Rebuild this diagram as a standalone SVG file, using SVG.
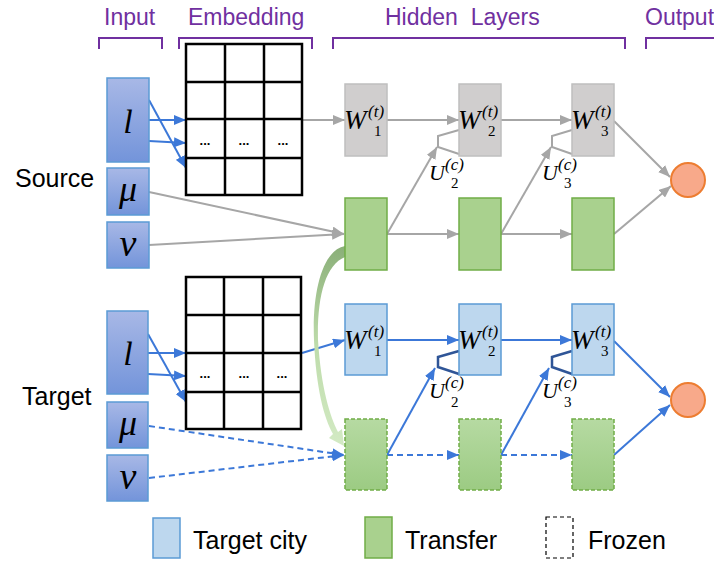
<svg xmlns="http://www.w3.org/2000/svg" width="714" height="561" viewBox="0 0 714 561">
<style>
.hdr{font-family:"Liberation Sans",Arial,sans-serif;font-size:23px;fill:#7030A0}
.brk{fill:none;stroke:#7030A0;stroke-width:2}
.lbl{font-family:"Liberation Sans",Arial,sans-serif;font-size:25px;fill:#000}
.inp{fill:url(#gInp);stroke:#5B9BD5;stroke-width:1.5}
.sym{font-family:"Liberation Serif","Times New Roman",serif;font-style:italic;fill:#000;text-anchor:middle}
.grid{fill:#fff;stroke:#000;stroke-width:2.5}
.gl{stroke:#000;stroke-width:2.5}
.dots{font-family:"Liberation Sans",Arial,sans-serif;font-size:13px;font-weight:bold;fill:#000;text-anchor:middle}
.gray{fill:#D0CECE;stroke:#BFBFBF;stroke-width:1.5}
.green{fill:#A9D18E;stroke:#70AD47;stroke-width:1.5}
.greend{fill:url(#gGreen);stroke:#70AD47;stroke-width:1.5;stroke-dasharray:4 2}
.blue{fill:#BDD7EE;stroke:#5B9BD5;stroke-width:1.5}
.outc{fill:#F8A98A;stroke:#ED7D31;stroke-width:2}
.w{font-family:"Liberation Serif","Times New Roman",serif;font-style:italic;font-size:27px;fill:#000}
.sup{font-family:"Liberation Serif","Times New Roman",serif;font-style:italic;font-size:17px;fill:#000}
.sub{font-family:"Liberation Serif","Times New Roman",serif;font-size:15px;fill:#000}
.u{font-family:"Liberation Serif","Times New Roman",serif;font-style:italic;font-size:22px;fill:#000}
.cg{fill:none;stroke:#A6A6A6;stroke-width:2}
.cb{fill:none;stroke:#3C78D8;stroke-width:2}
.cbd{fill:none;stroke:#3C78D8;stroke-width:2;stroke-dasharray:6 4}
.trg{fill:none;stroke:#A6A6A6;stroke-width:2}
.trb{fill:none;stroke:#2F5597;stroke-width:2.5}
</style>
<defs>
<linearGradient id="gInp" x1="0" y1="0" x2="0" y2="1"><stop offset="0" stop-color="#A8B8E6"/><stop offset="1" stop-color="#7394DA"/></linearGradient>
<linearGradient id="gGreen" x1="0" y1="0" x2="0" y2="1"><stop offset="0" stop-color="#B6DAA2"/><stop offset="1" stop-color="#9CCB83"/></linearGradient>
<linearGradient id="gCurve" x1="0" y1="0" x2="0" y2="1"><stop offset="0" stop-color="#8AAF78"/><stop offset="0.5" stop-color="#BEDCAB"/><stop offset="1" stop-color="#D3EAC4"/></linearGradient>
<marker id="ag" viewBox="0 0 12 10" refX="12" refY="5" markerWidth="12" markerHeight="10" orient="auto" markerUnits="userSpaceOnUse"><path d="M0,0 L12,5 L0,10 Z" fill="#A6A6A6"/></marker>
<marker id="ab" viewBox="0 0 12 10" refX="12" refY="5" markerWidth="12" markerHeight="10" orient="auto" markerUnits="userSpaceOnUse"><path d="M0,0 L12,5 L0,10 Z" fill="#3C78D8"/></marker>
</defs>
<rect width="714" height="561" fill="#fff"/>

<g id="headers">
<text class="hdr" x="104" y="25">Input</text>
<path class="brk" d="M99,49 V38 H162 V49"/>
<text class="hdr" x="188" y="25">Embedding</text>
<path class="brk" d="M179,49 V38 H312 V49"/>
<text class="hdr" x="385" y="25" xml:space="preserve">Hidden  Layers</text>
<path class="brk" d="M333,49 V38 H625 V49"/>
<text class="hdr" x="645" y="25">Output</text>
<path class="brk" d="M646,49 V38 H720"/>
</g>

<text class="lbl" x="15" y="187">Source</text>
<text class="lbl" x="22" y="405">Target</text>

<g id="connectors">
<path class="cb" d="M149,100 L186,168" marker-end="url(#ab)"/>
<path class="cb" d="M149,120 L186,120" marker-end="url(#ab)"/>
<path class="cb" d="M149,141 L186,143" marker-end="url(#ab)"/>
<path class="cg" d="M302,120 L345,120" marker-end="url(#ag)"/>
<path class="cg" d="M387,120 L459,120" marker-end="url(#ag)"/>
<path class="cg" d="M501,120 L572,120" marker-end="url(#ag)"/>
<path class="cg" d="M614,121 L670,177" marker-end="url(#ag)"/>
<path class="cg" d="M149,192 L344,234" marker-end="url(#ag)"/>
<path class="cg" d="M149,245 L344,234" marker-end="url(#ag)"/>
<path class="cg" d="M387,234 L459,234" marker-end="url(#ag)"/>
<path class="cg" d="M501,234 L572,234" marker-end="url(#ag)"/>
<path class="cg" d="M387,234 L437,147" marker-end="url(#ag)"/>
<path class="cg" d="M501,234 L551,147" marker-end="url(#ag)"/>
<path class="cg" d="M614,234 L671,186" marker-end="url(#ag)"/>
<path class="trg" d="M459,130 L438,136 L438,147 L459,154"/>
<path class="trg" d="M572,130 L552,136 L552,147 L572,154"/>
<path class="cb" d="M148,334 L186,402" marker-end="url(#ab)"/>
<path class="cb" d="M148,353 L186,353" marker-end="url(#ab)"/>
<path class="cb" d="M148,374 L186,376" marker-end="url(#ab)"/>
<path class="cb" d="M302,353 L345,340" marker-end="url(#ab)"/>
<path class="cb" d="M387,340 L459,340" marker-end="url(#ab)"/>
<path class="cb" d="M501,340 L572,340" marker-end="url(#ab)"/>
<path class="cb" d="M614,341 L670,397" marker-end="url(#ab)"/>
<path class="cbd" d="M149,426 L344,455" marker-end="url(#ab)"/>
<path class="cbd" d="M149,478 L344,455" marker-end="url(#ab)"/>
<path class="cbd" d="M387,455 L459,455" marker-end="url(#ab)"/>
<path class="cbd" d="M501,455 L572,455" marker-end="url(#ab)"/>
<path class="cb" d="M387,455 L435,368" marker-end="url(#ab)"/>
<path class="cb" d="M501,455 L549,368" marker-end="url(#ab)"/>
<path class="cb" d="M614,455 L670,405" marker-end="url(#ab)"/>
<path class="trb" d="M459,351 L438,357 L438,367 L459,374"/>
<path class="trb" d="M572,351 L552,357 L552,367 L572,374"/>
<path d="M345,246 C323,250 312,290 314,340 C316,388 324,418 333,434 L329,438 L344,446 L342,429 L338,432 C330,416 321,388 318,340 C317,298 325,265 345,257 Z" fill="url(#gCurve)"/>
</g>

<g id="src-l"><rect class="inp" x="107" y="78" width="42" height="84"/><text class="sym" x="128" y="133" font-size="34">l</text></g>
<g id="src-mu"><rect class="inp" x="107" y="168" width="42" height="47"/><text class="sym" x="128" y="201" font-size="36">μ</text></g>
<g id="src-nu"><rect class="inp" x="107" y="222" width="42" height="46"/><text class="sym" x="128" y="256" font-size="38">ν</text></g>
<g id="tgt-l"><rect class="inp" x="107" y="311" width="41" height="83"/><text class="sym" x="128" y="365" font-size="34">l</text></g>
<g id="tgt-mu"><rect class="inp" x="107" y="402" width="41" height="46"/><text class="sym" x="128" y="435" font-size="36">μ</text></g>
<g id="tgt-nu"><rect class="inp" x="107" y="455" width="41" height="46"/><text class="sym" x="128" y="489" font-size="38">ν</text></g>

<g id="src-emb">
<rect class="grid" x="186" y="44" width="116" height="151"/>
<path class="gl" d="M225,44 V195 M264,44 V195 M186,82 H302 M186,119 H302 M186,158 H302"/>
<text class="dots" x="205" y="145">...</text><text class="dots" x="244" y="145">...</text><text class="dots" x="283" y="145">...</text>
</g>
<g id="tgt-emb">
<rect class="grid" x="186" y="277" width="115" height="152"/>
<path class="gl" d="M224,277 V429 M263,277 V429 M186,315 H301 M186,353 H301 M186,392 H301"/>
<text class="dots" x="205" y="378">...</text><text class="dots" x="244" y="378">...</text><text class="dots" x="282" y="378">...</text>
</g>

<g id="src-w1"><rect class="gray" x="345" y="84" width="42" height="72"/><text class="w" x="344" y="129">W</text><text class="sup" x="368" y="117">(t)</text><text class="sub" x="374" y="136">1</text></g>
<g id="src-w2"><rect class="gray" x="459" y="84" width="42" height="72"/><text class="w" x="458" y="129">W</text><text class="sup" x="482" y="117">(t)</text><text class="sub" x="488" y="136">2</text></g>
<g id="src-w3"><rect class="gray" x="572" y="84" width="42" height="72"/><text class="w" x="571" y="129">W</text><text class="sup" x="595" y="117">(t)</text><text class="sub" x="601" y="136">3</text></g>
<g id="src-u2"><text class="u" x="429" y="180">U</text><text class="sup" x="445" y="170">(c)</text><text class="sub" x="451" y="188">2</text></g>
<g id="src-u3"><text class="u" x="542" y="180">U</text><text class="sup" x="558" y="170">(c)</text><text class="sub" x="564" y="188">3</text></g>
<g id="src-t1"><rect class="green" x="345" y="198" width="42" height="72"/></g>
<g id="src-t2"><rect class="green" x="459" y="198" width="42" height="72"/></g>
<g id="src-t3"><rect class="green" x="572" y="198" width="42" height="72"/></g>
<g id="src-out"><circle class="outc" cx="688" cy="180" r="17"/></g>

<g id="tgt-w1"><rect class="blue" x="345" y="304" width="42" height="71"/><text class="w" x="344" y="349">W</text><text class="sup" x="368" y="337">(t)</text><text class="sub" x="374" y="356">1</text></g>
<g id="tgt-w2"><rect class="blue" x="459" y="304" width="42" height="71"/><text class="w" x="458" y="349">W</text><text class="sup" x="482" y="337">(t)</text><text class="sub" x="488" y="356">2</text></g>
<g id="tgt-w3"><rect class="blue" x="572" y="304" width="42" height="71"/><text class="w" x="571" y="349">W</text><text class="sup" x="595" y="337">(t)</text><text class="sub" x="601" y="356">3</text></g>
<g id="tgt-u2"><text class="u" x="429" y="398">U</text><text class="sup" x="445" y="388">(c)</text><text class="sub" x="451" y="407">2</text></g>
<g id="tgt-u3"><text class="u" x="542" y="398">U</text><text class="sup" x="558" y="388">(c)</text><text class="sub" x="564" y="407">3</text></g>
<g id="tgt-t1"><rect class="greend" x="345" y="419" width="42" height="71"/></g>
<g id="tgt-t2"><rect class="greend" x="459" y="419" width="42" height="71"/></g>
<g id="tgt-t3"><rect class="greend" x="572" y="419" width="42" height="71"/></g>
<g id="tgt-out"><circle class="outc" cx="688" cy="400" r="17"/></g>

<g id="legend">
<rect class="blue" x="153" y="518" width="27" height="40"/>
<text class="lbl" x="193" y="549">Target city</text>
<rect class="green" x="365" y="517" width="27" height="41"/>
<text class="lbl" x="405" y="549">Transfer</text>
<rect x="546" y="517" width="27" height="41" fill="none" stroke="#000" stroke-width="1.2" stroke-dasharray="4 3"/>
<text class="lbl" x="588" y="549">Frozen</text>
</g>
</svg>
